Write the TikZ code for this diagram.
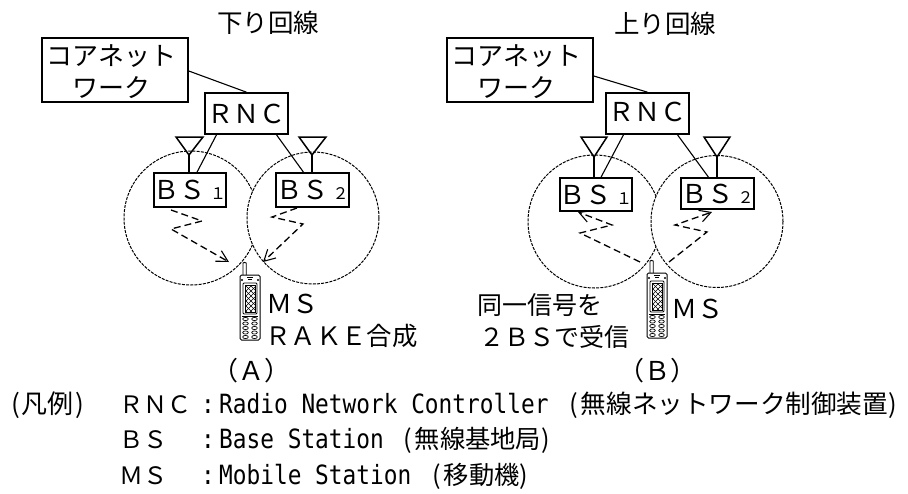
\documentclass[tikz,border=0pt]{standalone}
\usepackage{fontspec}
\usetikzlibrary{arrows.meta}
\setmainfont{Noto Sans CJK JP}
\newfontfamily\monolat[FakeStretch=0.86]{DejaVu Sans Mono}
\newcommand{\fs}[1]{\fontsize{#1}{#1}\selectfont}
\tikzset{
  x=1pt,y=-1pt,
  box/.style={draw,line width=1.6pt,fill=white,inner sep=0pt,align=center},
  lab/.style={anchor=base west,inner sep=0pt},
  labc/.style={anchor=base,inner sep=0pt},
  cell/.style={draw,line width=1pt,dash pattern=on 3pt off 1.2pt,fill=white},
  wave/.style={line width=1.3pt,dash pattern=on 7pt off 4pt,-{Straight Barb[length=11pt,width=12pt,line width=1.1pt]}},
  link/.style={line width=1.1pt},
  stem/.style={line width=1.5pt},
  phone/.pic={
    \draw[line width=0.9pt,fill=white,rounded corners=1pt] (3,0) -- (3,-11) arc[start angle=180,end angle=0,radius=1.6pt] -- (6.2,0);
    \draw[line width=1pt,fill=white,rounded corners=1.5pt] (0,0) rectangle (20,65);
    \draw[line width=0.6pt] (7,2) -- (13,2) (8,4) -- (12,4);
    \fill (2,5) circle (1.1pt) (18,5) circle (1.1pt);
    \draw[line width=0.8pt,rounded corners=1pt] (3,8) rectangle (17,39);
    \draw[line width=0.6pt] (5,10) rectangle (15,37);
    \begin{scope}
      \clip (5,10) rectangle (15,37);
      \foreach \k in {-30,-25,...,40} {
        \draw[line width=0.4pt] (\k,10) -- (\k+27,37);
        \draw[line width=0.4pt] (\k+27,10) -- (\k,37);
      }
    \end{scope}
    \draw[line width=0.6pt] (2,41) -- (18,41);
    \foreach \r in {44,48.5,53,57.5,62} \foreach \c in {5.5,14.5}
      \draw[line width=0.7pt] (\c,\r) ellipse[x radius=2.8pt,y radius=1.6pt];
  }
}
\begin{document}
\begin{tikzpicture}
\useasboundingbox (0,0) rectangle (908,493);

% --- (A) ---
\node[labc] (titleA) at (268,32) {\fs{25.5}下り回線};
\draw[cell] (191,218) circle (67pt);
\draw[cell] (313,218) circle (66pt);
\node[box,minimum width=146pt,minimum height=64pt] (coreA) at (115,70) {\fs{26}\rule{0pt}{24pt}コアネット\kern8pt\\[8pt]\fs{26}ワーク\kern8pt};
\node[box,minimum width=83pt,minimum height=41pt] (rncA) at (246.5,113.5) {\fs{26}ＲＮＣ};
\node[box,minimum width=70pt,minimum height=34pt] (bs1A) at (190,190) {\fs{26}ＢＳ\,\fs{16}１};
\node[box,minimum width=73pt,minimum height=34pt] (bs2A) at (312.5,190) {\fs{26}ＢＳ\,\fs{16}２};
\draw[link] ([yshift=-1pt]coreA.east) -- (rncA.north);
\draw[link] ([xshift=-30pt]rncA.south) -- ([xshift=7pt]bs1A.north);
\draw[link] ([xshift=30pt]rncA.south) -- ([xshift=-9pt]bs2A.north);
\coordinate (antA1) at (189,155);
\coordinate (antA2) at (312,155);
\draw[stem] (antA1) -- (antA1 |- bs1A.north);
\draw[stem] (antA2) -- (antA2 |- bs2A.north);
\draw[stem] (antA1) -- (176,137) -- (203,137) -- cycle;
\draw[stem] (antA2) -- (299,137) -- (326,137) -- cycle;
\coordinate (tipA1) at (229,262);
\coordinate (tipA2) at (263,262);
\draw[wave] (171,210) -- (202,221) -- (171,229) -- (tipA1);
\draw[wave] (297,208) -- (272,217) -- (303,224) -- (tipA2);
\pic at (240,275) {phone};
\node[lab] (msA) at (266,313) {\fs{26}ＭＳ};
\node[lab] (rakeA) at (265,345) {\fs{25.4}ＲＡＫＥ合成};
\node[labc] (capA) at (251,380) {\fs{26}（Ａ）};

% --- (B) ---
\node[labc] (titleB) at (665,33) {\fs{25.5}上り回線};
\draw[cell] (594.5,221.5) circle (66.5pt);
\draw[cell] (717,221.5) circle (66pt);
\node[box,minimum width=146pt,minimum height=64pt] (coreB) at (520,70) {\fs{26}\rule{0pt}{24pt}コアネット\kern8pt\\[8pt]\fs{26}ワーク\kern8pt};
\node[box,minimum width=83pt,minimum height=41pt] (rncB) at (647.5,113.5) {\raisebox{3pt}{\fs{26}ＲＮＣ}};
\node[box,minimum width=70pt,minimum height=33pt] (bs1B) at (596,194.5) {\fs{26}ＢＳ\,\fs{16}１};
\node[box,minimum width=73pt,minimum height=31pt] (bs2B) at (717.5,193.5) {\fs{26}ＢＳ\,\fs{16}２};
\draw[link] ([yshift=-6pt]coreB.east) -- (rncB.north);
\draw[link] ([xshift=-24pt]rncB.south) -- ([xshift=5pt]bs1B.north);
\draw[link] ([xshift=30pt]rncB.south) -- ([xshift=-9pt]bs2B.north);
\coordinate (antB1) at (594,157);
\coordinate (antB2) at (717,157);
\draw[stem] (antB1) -- (antB1 |- bs1B.north);
\draw[stem] (antB2) -- (antB2 |- bs2B.north);
\draw[stem] (antB1) -- (581,137) -- (607,137) -- cycle;
\draw[stem] (antB2) -- (704,137) -- (730,137) -- cycle;
\coordinate (tipB1) at (578,212);
\coordinate (tipB2) at (712,212);
\draw[wave] (640,262) -- (580,233) -- (612,225) -- (tipB1);
\draw[wave] (669,262) -- (707,232) -- (675,225) -- (tipB2);
\pic at (647,273) {phone};
\node[lab] (msB) at (671,318) {\fs{26}ＭＳ};
\node[lab] (recvB1) at (477,314) {\fs{25}同一信号を};
\node[lab] (recvB2) at (479,346) {\fs{25}２ＢＳで受信};
\node[labc] (capB) at (657,380) {\fs{26}（Ｂ）};

% --- legend ---
\node[lab] (lg) at (11,413) {\fs{26}(\kern2pt 凡例\kern2pt)};
\node[lab] (r1) at (119,413) {\fs{24}ＲＮＣ};
\node[lab] (r1c) at (201,413) {\monolat\fs{26.5}:};
\node[lab] (r1t) at (219,413) {\monolat\fs{26.5}Radio Network Controller};
\node[lab] (r1j) at (569,413) {\fs{25.6}(\kern3pt 無線ネットワーク制御装置)};
\node[lab] (r2) at (119,448) {\fs{24}ＢＳ};
\node[lab] (r2c) at (201,448) {\monolat\fs{26.5}:};
\node[lab] (r2t) at (219,448) {\monolat\fs{26.5}Base Station};
\node[lab] (r2j) at (403,448) {\fs{25.3}(\kern3pt 無線基地局)};
\node[lab] (r3) at (119,484) {\fs{24}ＭＳ};
\node[lab] (r3c) at (201,484) {\monolat\fs{26.5}:};
\node[lab] (r3t) at (219,484) {\monolat\fs{26.5}Mobile Station};
\node[lab] (r3j) at (432,484) {\fs{25.3}(\kern3pt 移動機)};
\end{tikzpicture}
\end{document}
